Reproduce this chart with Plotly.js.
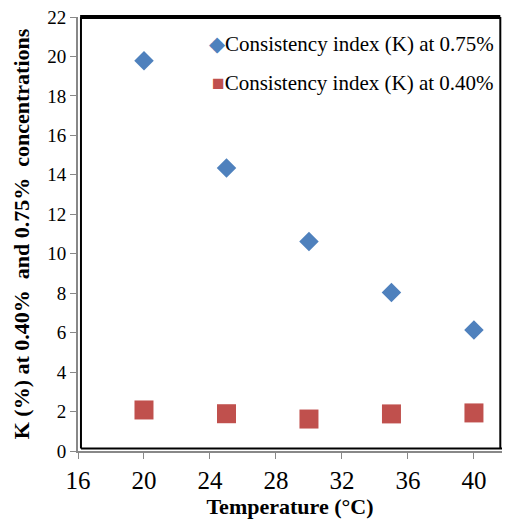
<!DOCTYPE html>
<html>
<head>
<meta charset="utf-8">
<script src="https://cdn.plot.ly/plotly-3.0.1.min.js"></script>
<style>html,body{margin:0;padding:0;background:#fff;}#chart{width:507px;height:519px;}</style>
</head>
<body>
<div id="chart"></div>
<script>
var temperature = [20, 25, 30, 35, 40];
var k075 = [19.78, 14.34, 10.62, 8.04, 6.13];
var k040 = [2.08, 1.89, 1.62, 1.88, 1.93];
var seriesNames = ['Consistency index (K) at 0.75%', 'Consistency index (K) at 0.40%'];
var xTicks = [16, 20, 24, 28, 32, 36, 40];
var yTicks = [0, 2, 4, 6, 8, 10, 12, 14, 16, 18, 20, 22];

var serif = 'Liberation Serif';
var blue = '#4F81BD', red = '#C0504D';

var traces = [
  {x: temperature, y: k075, mode: 'markers', type: 'scatter', name: seriesNames[0], showlegend: false,
   marker: {symbol: 'diamond', size: 15, color: blue}},
  {x: temperature, y: k040, mode: 'markers', type: 'scatter', name: seriesNames[1], showlegend: false,
   marker: {symbol: 'square', size: 19, color: red}}
];

var layout = {
  width: 507, height: 519,
  margin: {l: 78, r: 5, t: 17, b: 68},
  paper_bgcolor: '#fff', plot_bgcolor: '#fff',
  font: {family: serif, color: '#000'},
  showlegend: false,
  xaxis: {range: [16, 41.7], tickvals: xTicks, ticktext: xTicks.map(String),
          showgrid: false, zeroline: false, showline: true, linecolor: '#888', linewidth: 2,
          ticks: 'outside', ticklen: 6, tickcolor: '#888', tickwidth: 1,
          tickfont: {family: serif, size: 25, color: '#000'},
          title: {text: '<b>Temperature (°C)</b>', font: {family: serif, size: 22, color: '#000'}, standoff: 4}},
  yaxis: {range: [0, 22], tickvals: yTicks, ticktext: yTicks.map(String),
          showgrid: false, zeroline: false, showline: true, linecolor: '#888', linewidth: 2,
          ticks: 'outside', ticklen: 6, tickcolor: '#888', tickwidth: 1,
          tickfont: {family: serif, size: 19, color: '#000'},
          title: {text: '<b>K (%) at 0.40%&nbsp; and 0.75%&nbsp; concentrations</b>', font: {family: serif, size: 22, color: '#000'}, standoff: 12}},
  annotations: [
    {xref: 'paper', yref: 'paper', x: 0.305, y: 0.937, xanchor: 'left', yanchor: 'middle', showarrow: false,
     text: '<span style="color:' + blue + '">◆</span>' + seriesNames[0], font: {family: serif, size: 21, color: '#000'}},
    {xref: 'paper', yref: 'paper', x: 0.312, y: 0.847, xanchor: 'left', yanchor: 'middle', showarrow: false,
     text: '<span style="color:' + red + '">■</span>' + seriesNames[1], font: {family: serif, size: 21, color: '#000'}}
  ],
  shapes: [
    {type: 'line', xref: 'paper', yref: 'paper', x0: 0.007, x1: 0.007, y0: 0.006, y1: 1, line: {color: '#000', width: 2}},
    {type: 'line', xref: 'paper', yref: 'paper', x0: 0.007, x1: 1, y0: 0.006, y1: 0.006, line: {color: '#000', width: 2}},
    {type: 'line', xref: 'paper', yref: 'paper', x0: 0.996, x1: 0.996, y0: 0.006, y1: 1, line: {color: '#000', width: 2}},
    {type: 'line', xref: 'paper', yref: 'paper', x0: 0.005, x1: 0.996, y0: 1, y1: 1, line: {color: '#000', width: 4}}
  ]
};

Plotly.newPlot('chart', traces, layout, {displayModeBar: false, staticPlot: true});
</script>
</body>
</html>
